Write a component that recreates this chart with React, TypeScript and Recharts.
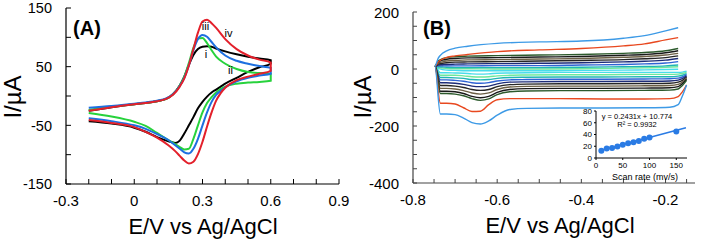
import React from "react";
import { LineChart, Line, XAxis, YAxis } from "recharts";

const FONT = '"Liberation Sans", Arial, Helvetica, sans-serif';

// ---------- panel A: CVs of electrodes i-iv (E in V, I in µA)
const fwdPotentialA = [-0.2, -0.1, 0, 0.05, 0.1, 0.14, 0.17, 0.2, 0.22, 0.24, 0.26, 0.28, 0.3, 0.32, 0.34, 0.36, 0.4, 0.45, 0.5, 0.55, 0.6];
const revPotentialA = [0.6, 0.55, 0.5, 0.45, 0.4, 0.38, 0.36, 0.34, 0.32, 0.3, 0.28, 0.26, 0.24, 0.22, 0.2, 0.18, 0.15, 0.1, 0.05, 0, -0.1, -0.2];

const fwdI = [-25, -19, -14, -12, -9, -5, 3, 18, 33, 53, 70, 80, 84, 85, 84, 81, 76, 71, 67, 64, 61];
const revI = [55, 49, 41, 31, 21, 16, 11, 6, -1, -10, -21, -36, -50, -64, -76, -80, -77, -70, -61, -54, -47, -43];
const fwdII = [-24, -18, -14, -12, -9, -5, 3, 18, 33, 56, 82, 98, 99, 90, 78, 67, 55, 46, 41, 39, 38];
const revII = [26, 24, 23, 21, 16, 12, 6, -2, -12, -28, -50, -73, -90, -91, -87, -82, -75, -63, -51, -44, -35, -29];
const fwdIII = [-20, -17, -13, -11, -8, -4, 3, 17, 31, 52, 78, 97, 104, 101, 92, 83, 69, 60, 55, 51, 48];
const revIII = [38, 35, 31, 25, 15, 9, 2, -10, -28, -50, -73, -90, -98, -96, -90, -84, -75, -65, -56, -50, -43, -38];
const fwdIV = [-25, -19, -14, -12, -9, -5, 2, 16, 30, 52, 80, 108, 127, 130, 124, 116, 97, 80, 69, 62, 57];
const revIV = [43, 38, 33, 27, 14, 5, -8, -28, -52, -78, -99, -112, -115, -110, -102, -94, -84, -71, -61, -53, -46, -41];

const xTicksA = [-0.3, -0.2, -0.1, 0, 0.1, 0.2, 0.3, 0.4, 0.5, 0.6, 0.7, 0.8, 0.9];
const xLabelsA = [-0.3, 0, 0.3, 0.6, 0.9];
const yTicksA = [-150, -100, -50, 0, 50, 100, 150];
const yLabelsA = [-150, -50, 50, 150];

// ---------- panel B: scan-rate series (mV/s)
const topPotentialB = [-0.748, -0.74, -0.73, -0.72, -0.7, -0.67, -0.6, -0.5, -0.4, -0.3, -0.25, -0.2, -0.17];
const botPotentialB = [-0.15, -0.16, -0.17, -0.19, -0.25, -0.35, -0.45, -0.53, -0.57, -0.6, -0.62, -0.64, -0.66, -0.68, -0.7, -0.72, -0.735];

const top150 = [10, 38, 55, 64, 73, 80, 90, 95, 98, 108, 117, 134, 145];
const bot150 = [-56, -95, -125, -134, -136, -137, -137, -138, -142, -162, -182, -193, -188, -172, -160, -158, -158];
const top100 = [10, 25, 35, 41, 46, 51, 61, 67, 72, 81, 88, 102, 110];
const bot100 = [-56, -80, -97, -104, -105, -105, -104, -104, -104, -108, -125, -148, -149, -136, -123, -120, -120];
const top90 = [10, 28, 36, 40, 43, 45, 47, 49, 51, 55, 58, 64, 72];
const bot90 = [-40, -58, -70, -74, -75, -76, -76, -77, -80, -90, -105, -110, -104, -94, -88, -86, -86];
const top80 = [10, 24, 31, 34, 37, 39, 40, 42, 44, 48, 51, 57, 64];
const bot80 = [-36, -52, -62, -66, -67, -68, -68, -69, -72, -82, -96, -101, -96, -86, -80, -78, -78];
const top70 = [10, 20, 25, 28, 30, 32, 33, 35, 37, 41, 44, 49, 55];
const bot70 = [-32, -46, -54, -58, -59, -60, -60, -61, -63, -72, -84, -88, -84, -76, -70, -68, -68];
const top60 = [10, 17, 20, 22, 24, 25, 26, 28, 30, 33, 36, 40, 46];
const bot60 = [-28, -40, -46, -50, -51, -52, -52, -53, -55, -62, -72, -75, -72, -65, -60, -58, -58];
const top50 = [10, 14, 15, 16, 17, 18, 19, 20, 22, 25, 27, 31, 37];
const bot50 = [-24, -34, -39, -42, -43, -44, -44, -45, -46, -52, -60, -62, -60, -54, -50, -48, -48];
const top40 = [10, 11, 11, 11, 11, 11, 12, 12, 14, 16, 18, 21, 26];
const bot40 = [-20, -28, -32, -34, -35, -36, -36, -37, -38, -42, -48, -50, -48, -43, -40, -38, -38];
const top30 = [10, 8, 7, 6, 5, 5, 5, 5, 6, 8, 9, 11, 14];
const bot30 = [-16, -22, -25, -27, -27, -28, -28, -29, -30, -33, -37, -38, -37, -33, -31, -30, -30];
const top20 = [10, 5, 3, 2, 1, 1, 0, 0, 1, 3, 4, 6, 8];
const bot20 = [-12, -16, -18, -19, -19, -20, -20, -21, -22, -24, -27, -28, -27, -24, -22, -22, -22];
const top10 = [10, 2, -2, -4, -5, -6, -6, -6, -5, -4, -3, -2, -1];
const bot10 = [-8, -11, -12, -12, -12, -12, -12, -13, -14, -15, -17, -18, -17, -15, -14, -13, -13];

const xTicksB = [-0.8, -0.75, -0.7, -0.65, -0.6, -0.55, -0.5, -0.45, -0.4, -0.35, -0.3, -0.25, -0.2, -0.15];
const xLabelsB = [-0.8, -0.6, -0.4, -0.2];
const yTicksB = [-400, -350, -300, -250, -200, -150, -100, -50, 0, 50, 100, 150, 200];
const yLabelsB = [-400, -200, 0, 200];

// ---------- inset: peak current vs scan rate
const scanRates = [10, 20, 30, 40, 50, 60, 70, 80, 90, 100, 150];
const peakCurrents = [12.4, 16, 17.2, 19.6, 22.5, 24.9, 26.7, 29, 32.6, 35, 45];
const fitRates = [10, 168];
const fitCurrents = [13.2, 51.5];
const insetXTicks = [0, 50, 100, 150];
const insetYTicks = [0, 20, 40, 60, 80];

const loopA = (fwd: number[], rev: number[]) => [
  ...fwdPotentialA.map((e, k) => ({ e, i: fwd[k] })),
  ...revPotentialA.map((e, k) => ({ e, i: rev[k] })),
];

const loopB = (bot: number[], top: number[]) => [
  ...botPotentialB.map((e, k) => ({ e, i: bot[k] })),
  ...topPotentialB.map((e, k) => ({ e, i: top[k] })),
];

const curvesA = [
  { key: "i", color: "#000000", data: loopA(fwdI, revI) },
  { key: "ii", color: "#27d23c", data: loopA(fwdII, revII) },
  { key: "iii", color: "#1d6fe0", data: loopA(fwdIII, revIII) },
  { key: "iv", color: "#e3202b", data: loopA(fwdIV, revIV) },
];

const curvesB = [
  { key: "10", color: "#48dcea", data: loopB(bot10, top10) },
  { key: "20", color: "#6ee89a", data: loopB(bot20, top20) },
  { key: "30", color: "#1fb5b5", data: loopB(bot30, top30) },
  { key: "40", color: "#2f63d4", data: loopB(bot40, top40) },
  { key: "50", color: "#1d2c78", data: loopB(bot50, top50) },
  { key: "60", color: "#262626", data: loopB(bot60, top60) },
  { key: "70", color: "#6b5f45", data: loopB(bot70, top70) },
  { key: "80", color: "#1a1a1a", data: loopB(bot80, top80) },
  { key: "90", color: "#2c5a2c", data: loopB(bot90, top90) },
  { key: "100", color: "#e8481f", data: loopB(bot100, top100) },
  { key: "150", color: "#3d9ae6", data: loopB(bot150, top150) },
];

const insetPoints = scanRates.map((x, k) => ({ x, y: peakCurrents[k] }));
const insetFit = fitRates.map((x, k) => ({ x, y: fitCurrents[k] }));

type TickOpts = {
  side: "bottom" | "left";
  labelled: number[];
  len: number; // >0 inward, <0 outward
  gap: number;
  size: number;
  color: string;
};

function axisTick({ side, labelled, len, gap, size, color }: TickOpts) {
  return (props: any) => {
    const { x, y, payload } = props;
    const v = payload.value;
    const show = labelled.some((l) => Math.abs(l - v) < 1e-9);
    if (side === "bottom") {
      return (
        <g>
          <line x1={x} x2={x} y1={y} y2={y - len} stroke={color} strokeWidth={1} />
          {show && (
            <text x={x} y={y + gap} textAnchor="middle" fontSize={size} fontFamily={FONT} fill="#000">
              {String(v)}
            </text>
          )}
        </g>
      );
    }
    return (
      <g>
        <line x1={x} x2={x + len} y1={y} y2={y} stroke={color} strokeWidth={1} />
        {show && (
          <text x={x - gap} y={y + size * 0.37} textAnchor="end" fontSize={size} fontFamily={FONT} fill="#000">
            {String(v)}
          </text>
        )}
      </g>
    );
  };
}

function Txt({ cx, cy, size, bold, rotate, children }: any) {
  return (
    <div
      style={{
        position: "absolute",
        left: cx,
        top: cy,
        transform: `translate(-50%, -50%)${rotate ? " rotate(-90deg)" : ""}`,
        fontSize: size,
        fontWeight: bold ? "bold" : "normal",
        lineHeight: 1,
        whiteSpace: "nowrap",
        color: "#000",
      }}
    >
      {children}
    </div>
  );
}

function PanelA() {
  return (
    <LineChart width={360} height={240} margin={{ top: 8, right: 21, bottom: 0, left: 0 }}>
      <XAxis
        dataKey="e"
        type="number"
        domain={[-0.3, 0.9]}
        ticks={xTicksA}
        interval={0}
        allowDataOverflow
        height={56}
        tickSize={0}
        tickMargin={0}
        tickLine={false}
        axisLine={{ stroke: "#000", strokeWidth: 1.2 }}
        tick={axisTick({ side: "bottom", labelled: xLabelsA, len: 5, gap: 22, size: 15, color: "#000" })}
      />
      <YAxis
        dataKey="i"
        type="number"
        domain={[-150, 150]}
        ticks={yTicksA}
        interval={0}
        allowDataOverflow
        width={66}
        tickSize={0}
        tickMargin={0}
        tickLine={false}
        axisLine={{ stroke: "#000", strokeWidth: 1.2 }}
        tick={axisTick({ side: "left", labelled: yLabelsA, len: 5, gap: 14, size: 14.5, color: "#000" })}
      />
      <XAxis xAxisId="top" orientation="top" type="number" domain={[-0.3, 0.9]} height={0} tick={false} tickLine={false} axisLine={{ stroke: "#000", strokeWidth: 1.2 }} />
      <YAxis yAxisId="right" orientation="right" type="number" domain={[-150, 150]} width={0} tick={false} tickLine={false} axisLine={{ stroke: "#000", strokeWidth: 1.2 }} />
      {curvesA.map((c) => (
        <Line
          key={c.key}
          data={c.data}
          dataKey="i"
          type="monotone"
          stroke={c.color}
          strokeWidth={2}
          dot={false}
          activeDot={false}
          isAnimationActive={false}
        />
      ))}
    </LineChart>
  );
}

function PanelB() {
  const frame = "#444";
  return (
    <LineChart width={348} height={240} margin={{ top: 12, right: 13, bottom: 0, left: 0 }}>
      <XAxis
        dataKey="e"
        type="number"
        domain={[-0.8, -0.13]}
        ticks={xTicksB}
        interval={0}
        allowDataOverflow
        height={57}
        tickSize={0}
        tickMargin={0}
        tickLine={false}
        axisLine={{ stroke: frame, strokeWidth: 1.2 }}
        tick={axisTick({ side: "bottom", labelled: xLabelsB, len: 4, gap: 22, size: 15, color: frame })}
      />
      <YAxis
        dataKey="i"
        type="number"
        domain={[-400, 200]}
        ticks={yTicksB}
        interval={0}
        allowDataOverflow
        width={53}
        tickSize={0}
        tickMargin={0}
        tickLine={false}
        axisLine={{ stroke: frame, strokeWidth: 1.2 }}
        tick={axisTick({ side: "left", labelled: yLabelsB, len: 4, gap: 14, size: 15, color: frame })}
      />
      <XAxis xAxisId="top" orientation="top" type="number" domain={[-0.8, -0.13]} height={0} tick={false} tickLine={false} axisLine={{ stroke: frame, strokeWidth: 1.2 }} />
      <YAxis yAxisId="right" orientation="right" type="number" domain={[-400, 200]} width={0} tick={false} tickLine={false} axisLine={{ stroke: frame, strokeWidth: 1.2 }} />
      {curvesB.map((c) => (
        <Line
          key={c.key}
          data={c.data}
          dataKey="i"
          type="monotone"
          stroke={c.color}
          strokeWidth={1.4}
          dot={false}
          activeDot={false}
          isAnimationActive={false}
        />
      ))}
    </LineChart>
  );
}

function Inset() {
  const blue = "#2a7be4";
  return (
    <LineChart width={140} height={80} margin={{ top: 11, right: 13, bottom: 0, left: 0 }}>
      <XAxis
        dataKey="x"
        type="number"
        domain={[0, 170]}
        ticks={insetXTicks}
        interval={0}
        allowDataOverflow
        height={22}
        tickSize={0}
        tickMargin={0}
        tickLine={false}
        axisLine={{ stroke: "#000" }}
        tick={axisTick({ side: "bottom", labelled: insetXTicks, len: -2, gap: 10, size: 8, color: "#000" })}
      />
      <YAxis
        dataKey="y"
        type="number"
        domain={[0, 80]}
        ticks={insetYTicks}
        interval={0}
        allowDataOverflow
        width={36}
        tickSize={0}
        tickMargin={0}
        tickLine={false}
        axisLine={{ stroke: "#000" }}
        tick={axisTick({ side: "left", labelled: insetYTicks, len: -2, gap: 4, size: 8, color: "#000" })}
      />
      <XAxis xAxisId="top" orientation="top" type="number" domain={[0, 170]} height={0} tick={false} tickLine={false} axisLine={{ stroke: "#000" }} />
      <YAxis yAxisId="right" orientation="right" type="number" domain={[0, 80]} width={0} tick={false} tickLine={false} axisLine={{ stroke: "#000" }} />
      <Line data={insetFit} dataKey="y" type="linear" stroke={blue} strokeWidth={1.5} dot={false} activeDot={false} isAnimationActive={false} />
      <Line
        data={insetPoints}
        dataKey="y"
        type="linear"
        stroke="none"
        dot={{ r: 3, fill: blue, stroke: blue, strokeWidth: 0 }}
        activeDot={false}
        isAnimationActive={false}
      />
    </LineChart>
  );
}

export default function App() {
  return (
    <div
      style={{
        position: "absolute",
        left: 0,
        top: 0,
        width: 708,
        height: 240,
        background: "#fff",
        fontFamily: FONT,
        overflow: "hidden",
      }}
    >
      <div style={{ position: "absolute", left: 0, top: 0 }}>
        <PanelA />
      </div>
      <div style={{ position: "absolute", left: 360, top: 0 }}>
        <PanelB />
      </div>
      <div style={{ position: "absolute", left: 560, top: 100 }}>
        <Inset />
      </div>

      <Txt cx={13} cy={97} size={24} rotate>I/µA</Txt>
      <Txt cx={203} cy={227} size={22}>E/V vs Ag/AgCl</Txt>
      <Txt cx={87} cy={28} size={20} bold>(A)</Txt>
      <Txt cx={205.5} cy={26} size={11}>iii</Txt>
      <Txt cx={228.5} cy={33} size={11}>iv</Txt>
      <Txt cx={206} cy={53.5} size={11}>i</Txt>
      <Txt cx={230.5} cy={70} size={11}>ii</Txt>

      <Txt cx={363} cy={97} size={24} rotate>I/µA</Txt>
      <Txt cx={560} cy={226} size={22}>E/V vs Ag/AgCl</Txt>
      <Txt cx={437} cy={28} size={20} bold>(B)</Txt>

      <Txt cx={637} cy={117} size={7.5}>y = 0.2431x + 10.774</Txt>
      <Txt cx={637} cy={125} size={7.5}>R² = 0.9932</Txt>
      <Txt cx={645} cy={176.5} size={9}>Scan rate (mv/s)</Txt>
    </div>
  );
}
